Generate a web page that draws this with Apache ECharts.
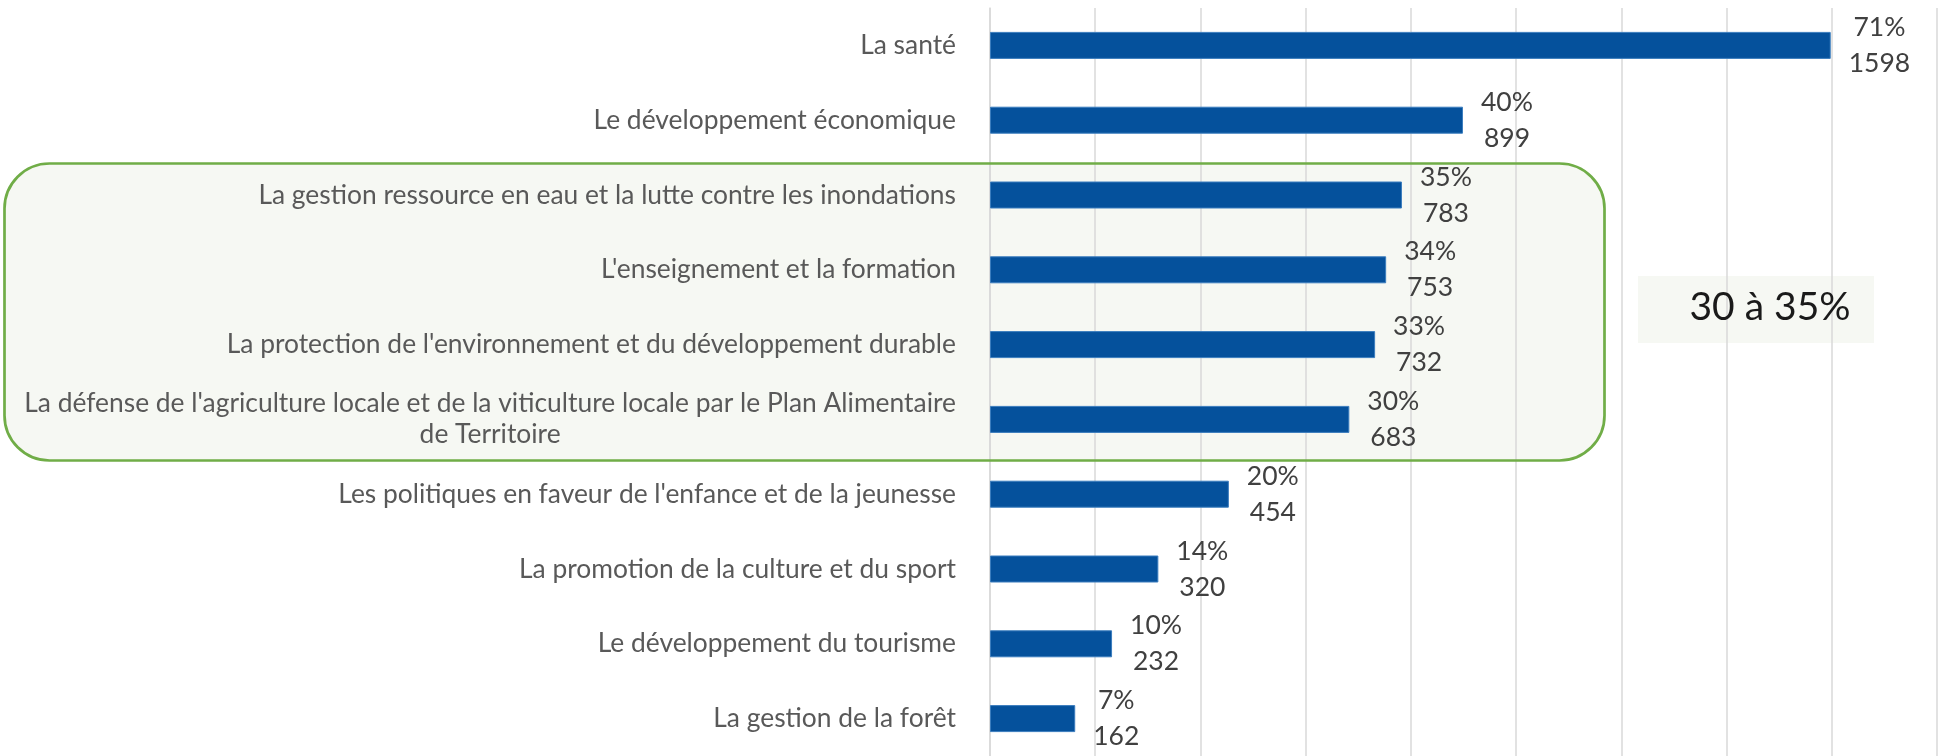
<!DOCTYPE html>
<html>
<head>
<meta charset="utf-8">
<script src="https://cdn.jsdelivr.net/npm/echarts@6/dist/echarts.min.js"></script>
<style>
    html, body { margin: 0; padding: 0; background: #ffffff; }
    #main_chart { width: 1943px; height: 756px; }
</style>
</head>
<body>
<div id="main_chart"></div>
<script>
// thèmes prioritaires
var categories = [
    'La santé',
    'Le développement économique',
    'La gestion ressource en eau et la lutte contre les inondations',
    "L'enseignement et la formation",
    "La protection de l'environnement et du développement durable",
    "La défense de l'agriculture locale et de la viticulture locale par le Plan Alimentaire\nde Territoire",
    "Les politiques en faveur de l'enfance et de la jeunesse",
    'La promotion de la culture et du sport',
    'Le développement du tourisme',
    'La gestion de la forêt'
];
var counts = [1598, 899, 783, 753, 732, 683, 454, 320, 232, 162];
var percents = [71, 40, 35, 34, 33, 30, 20, 14, 10, 7];
var rangeLabel = '30 à 35%';

var gridColor = '#D9D9D9';
var boxFill = '#F6F8F3';

var option = {
    animation: false,
    grid: {
        left: 990,
        right: 6,
        top: 8,
        height: 750
    },
    xAxis: {
        type: 'value',
        min: 0,
        max: 1800,
        interval: 200,
        axisLabel: { show: false },
        axisLine: { show: false },
        axisTick: { show: false },
        splitLine: {
            lineStyle: { color: gridColor, width: 1.5 }
        }
    },
    yAxis: {
        type: 'category',
        inverse: true,
        data: categories,
        axisTick: { show: false },
        axisLine: {
            lineStyle: { color: gridColor, width: 1.5 }
        },
        axisLabel: {
            margin: 34,
            formatter: function (value) {
                return value.split('\n').map(function (line) {
                    return '{c|' + line + '}';
                }).join('\n');
            },
            rich: {
                c: {
                    align: 'center',
                    fontFamily: 'Lato',
                    fontSize: 26.4,
                    lineHeight: 31,
                    color: '#595959'
                }
            }
        }
    },
    series: [{
        type: 'bar',
        data: counts,
        barWidth: 27,
        itemStyle: {
            color: '#05519C',
            borderColor: '#3B7DBE',
            borderWidth: 1
        },
        label: {
            show: true,
            position: 'right',
            distance: 18,
            formatter: function (p) {
                return '{c|' + percents[p.dataIndex] + '%}\n{c|' + p.value + '}';
            },
            rich: {
                c: {
                    align: 'center',
                    fontFamily: 'Lato',
                    fontSize: 26.5,
                    lineHeight: 36,
                    color: '#404040'
                }
            }
        }
    }],
    graphic: [
        {   // zone 30 à 35 % (fond)
            type: 'rect',
            z: -10,
            shape: { x: 4.5, y: 163.5, width: 1600, height: 297, r: 45 },
            style: { fill: boxFill }
        },
        {   // zone 30 à 35 % (bordure)
            type: 'rect',
            z: 1,
            shape: { x: 4.5, y: 163.5, width: 1600, height: 297, r: 45 },
            style: { fill: null, stroke: '#70AD47', lineWidth: 2.7 }
        },
        {
            type: 'rect',
            z: -10,
            shape: { x: 1638, y: 276, width: 236, height: 67 },
            style: { fill: boxFill }
        },
        {
            type: 'text',
            z: 5,
            x: 1770,
            y: 307,
            style: {
                text: rangeLabel,
                fontFamily: 'Lato',
                fontSize: 39,
                fill: '#1A1A1A',
                align: 'center',
                verticalAlign: 'middle'
            }
        }
    ]
};

echarts.init(document.getElementById('main_chart')).setOption(option);
</script>
</body>
</html>
